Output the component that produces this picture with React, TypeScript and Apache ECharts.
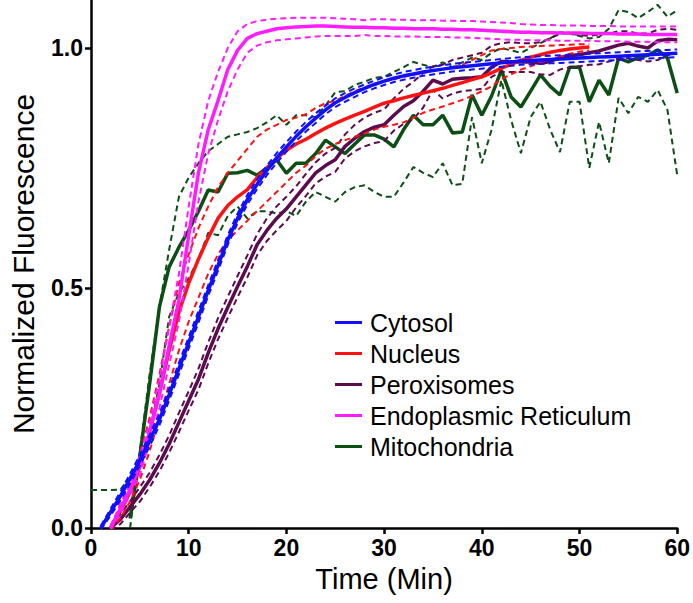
import React, { useEffect, useRef } from "react";
import * as echarts from "echarts";

const TIME = [0, 1, 2, 3, 4, 5, 6, 7, 8, 9, 10, 11, 12, 13, 14, 15, 16, 17, 18, 19, 20, 21, 22, 23, 24, 25, 26, 27, 28, 29, 30, 31, 32, 33, 34, 35, 36, 37, 38, 39, 40, 41, 42, 43, 44, 45, 46, 47, 48, 49, 50, 51, 52, 53, 54, 55, 56, 57, 58, 59, 60];

const Y_TICKS = [0, 0.5, 1.0];

const CYT_MEAN = [null, 0, 0.033, 0.066, 0.103, 0.141, 0.182, 0.226, 0.278, 0.332, 0.386, 0.44, 0.495, 0.547, 0.6, 0.645, 0.684, 0.716, 0.745, 0.771, 0.794, 0.816, 0.836, 0.854, 0.871, 0.886, 0.897, 0.907, 0.916, 0.924, 0.931, 0.937, 0.942, 0.946, 0.95, 0.953, 0.956, 0.959, 0.961, 0.963, 0.965, 0.967, 0.969, 0.971, 0.973, 0.974, 0.975, 0.976, 0.977, 0.978, 0.979, 0.98, 0.981, 0.982, 0.983, 0.984, 0.985, 0.986, 0.987, 0.988, 0.989];
const CYT_UP = [null, 0.004, 0.04, 0.075, 0.113, 0.152, 0.194, 0.238, 0.29, 0.344, 0.398, 0.452, 0.506, 0.558, 0.61, 0.655, 0.694, 0.726, 0.755, 0.781, 0.804, 0.826, 0.846, 0.864, 0.88, 0.895, 0.906, 0.916, 0.924, 0.932, 0.939, 0.945, 0.95, 0.954, 0.958, 0.961, 0.964, 0.967, 0.969, 0.971, 0.973, 0.975, 0.977, 0.979, 0.981, 0.982, 0.983, 0.984, 0.985, 0.986, 0.987, 0.988, 0.989, 0.99, 0.991, 0.992, 0.993, 0.994, 0.995, 0.996, 0.997];
const CYT_LO = [null, -0.004, 0.026, 0.057, 0.093, 0.13, 0.17, 0.214, 0.266, 0.32, 0.374, 0.428, 0.484, 0.536, 0.59, 0.635, 0.674, 0.706, 0.735, 0.761, 0.784, 0.806, 0.826, 0.844, 0.862, 0.877, 0.888, 0.898, 0.908, 0.916, 0.923, 0.929, 0.934, 0.938, 0.942, 0.945, 0.948, 0.951, 0.953, 0.955, 0.957, 0.959, 0.961, 0.963, 0.965, 0.966, 0.967, 0.968, 0.969, 0.97, 0.971, 0.972, 0.973, 0.974, 0.975, 0.976, 0.977, 0.978, 0.979, 0.98, 0.981];

const NUC_MEAN = [null, null, 0, 0.035, 0.075, 0.127, 0.2, 0.28, 0.37, 0.45, 0.51, 0.56, 0.605, 0.645, 0.672, 0.69, 0.705, 0.73, 0.75, 0.77, 0.787, 0.8, 0.81, 0.822, 0.833, 0.843, 0.852, 0.86, 0.868, 0.877, 0.885, 0.89, 0.896, 0.901, 0.906, 0.911, 0.916, 0.922, 0.928, 0.934, 0.94, 0.948, 0.958, 0.966, 0.974, 0.981, 0.986, 0.991, 0.995, 0.998, 1.0, 1.002];
const NUC_UP = [null, null, 0.005, 0.045, 0.09, 0.15, 0.23, 0.32, 0.42, 0.51, 0.57, 0.625, 0.67, 0.71, 0.74, 0.765, 0.79, 0.815, 0.83, 0.84, 0.85, 0.855, 0.862, 0.875, 0.885, 0.89, 0.9, 0.91, 0.918, 0.925, 0.93, 0.935, 0.94, 0.944, 0.948, 0.952, 0.956, 0.96, 0.965, 0.975, 0.985, 0.995, 0.998, 1.0, 1.002, 1.003, 1.004, 1.005, 1.006, 1.007, 1.008, 1.008];
const NUC_LO = [null, null, -0.005, 0.02, 0.055, 0.1, 0.16, 0.23, 0.3, 0.37, 0.43, 0.48, 0.53, 0.57, 0.6, 0.62, 0.64, 0.66, 0.68, 0.7, 0.72, 0.74, 0.755, 0.775, 0.79, 0.8, 0.808, 0.815, 0.822, 0.83, 0.836, 0.84, 0.845, 0.855, 0.865, 0.872, 0.878, 0.885, 0.892, 0.9, 0.91, 0.92, 0.935, 0.945, 0.955, 0.962, 0.97, 0.976, 0.982, 0.988, 0.992, 0.995];

const PER_MEAN = [null, null, 0, 0.018, 0.044, 0.07, 0.1, 0.135, 0.175, 0.22, 0.265, 0.31, 0.365, 0.415, 0.46, 0.503, 0.545, 0.59, 0.62, 0.645, 0.665, 0.69, 0.715, 0.74, 0.755, 0.767, 0.795, 0.812, 0.826, 0.835, 0.84, 0.86, 0.878, 0.89, 0.91, 0.933, 0.925, 0.935, 0.937, 0.938, 0.94, 0.96, 0.972, 0.971, 0.971, 0.971, 0.968, 0.972, 0.98, 0.984, 0.986, 0.99, 0.994, 1.0, 1.006, 1.01, 1.004, 1.0, 1.015, 1.018, 1.017];
const PER_UP = [null, null, 0.005, 0.028, 0.056, 0.085, 0.115, 0.152, 0.193, 0.24, 0.285, 0.332, 0.387, 0.437, 0.482, 0.525, 0.568, 0.612, 0.645, 0.67, 0.69, 0.712, 0.738, 0.762, 0.78, 0.792, 0.82, 0.84, 0.855, 0.865, 0.872, 0.895, 0.915, 0.93, 0.948, 0.962, 0.965, 0.975, 0.98, 0.985, 0.99, 1.005, 1.01, 1.012, 1.01, 1.01, 1.012, 1.02, 1.03, 1.03, 1.027, 1.025, 1.028, 1.03, 1.035, 1.035, 1.03, 1.03, 1.038, 1.04, 1.038];
const PER_LO = [null, null, -0.005, 0.008, 0.032, 0.055, 0.085, 0.118, 0.157, 0.2, 0.245, 0.288, 0.343, 0.393, 0.438, 0.481, 0.522, 0.568, 0.598, 0.62, 0.64, 0.668, 0.692, 0.718, 0.732, 0.742, 0.77, 0.785, 0.795, 0.802, 0.806, 0.828, 0.842, 0.852, 0.876, 0.9125, 0.895, 0.905, 0.91, 0.912, 0.915, 0.94, 0.95, 0.95, 0.95, 0.95, 0.945, 0.944, 0.955, 0.96, 0.962, 0.965, 0.966, 0.972, 0.978, 0.979, 0.975, 0.972, 0.975, 0.985, 0.99];

const ER_MEAN = [null, null, 0, 0.04, 0.08, 0.13, 0.2, 0.28, 0.38, 0.475, 0.61, 0.74, 0.83, 0.89, 0.955, 0.995, 1.02, 1.03, 1.035, 1.04, 1.042, 1.044, 1.045, 1.046, 1.046, 1.045, 1.044, 1.043, 1.043, 1.042, 1.042, 1.041, 1.041, 1.04, 1.04, 1.04, 1.039, 1.039, 1.038, 1.038, 1.037, 1.036, 1.035, 1.034, 1.033, 1.033, 1.032, 1.032, 1.031, 1.031, 1.031, 1.03, 1.03, 1.03, 1.029, 1.029, 1.029, 1.028, 1.028, 1.028, 1.028];
const ER_UP = [null, null, 0.003, 0.05, 0.09, 0.15, 0.22, 0.31, 0.42, 0.53, 0.67, 0.8, 0.89, 0.95, 1.0, 1.035, 1.05, 1.056, 1.059, 1.061, 1.062, 1.063, 1.063, 1.063, 1.063, 1.062, 1.061, 1.06, 1.058, 1.06, 1.06, 1.059, 1.059, 1.058, 1.058, 1.058, 1.057, 1.057, 1.056, 1.056, 1.055, 1.054, 1.053, 1.052, 1.05, 1.049, 1.048, 1.048, 1.047, 1.047, 1.047, 1.046, 1.046, 1.046, 1.045, 1.045, 1.045, 1.045, 1.045, 1.045, 1.045];
const ER_LO = [null, null, -0.003, 0.03, 0.07, 0.11, 0.18, 0.25, 0.34, 0.43, 0.55, 0.68, 0.78, 0.85, 0.91, 0.955, 0.99, 1.005, 1.012, 1.016, 1.018, 1.02, 1.022, 1.024, 1.025, 1.025, 1.025, 1.025, 1.027, 1.025, 1.025, 1.024, 1.024, 1.024, 1.023, 1.023, 1.023, 1.022, 1.022, 1.021, 1.02, 1.019, 1.018, 1.017, 1.017, 1.016, 1.016, 1.016, 1.015, 1.015, 1.015, 1.015, 1.014, 1.014, 1.014, 1.013, 1.013, 1.013, 1.012, 1.012, 1.012];

const MIT_MEAN = [null, null, null, null, 0.02, 0.15, 0.3, 0.46, 0.544, 0.585, 0.62, 0.66, 0.704, 0.7, 0.739, 0.74, 0.745, 0.735, 0.75, 0.767, 0.739, 0.76, 0.76, 0.78, 0.808, 0.794, 0.78, 0.8, 0.819, 0.819, 0.81, 0.794, 0.83, 0.86, 0.84, 0.84, 0.86, 0.823, 0.825, 0.902, 0.86, 0.9, 0.954, 0.898, 0.877, 0.91, 0.944, 0.92, 0.902, 0.96, 0.96, 0.888, 0.933, 0.902, 0.979, 0.971, 0.98, 0.985, 0.996, 0.979, 0.906];
const MIT_UP = [null, null, null, null, 0.0, 0.16, 0.32, 0.46, 0.58, 0.69, 0.73, 0.76, 0.785, 0.8, 0.815, 0.82, 0.825, 0.833, 0.845, 0.86, 0.84, 0.86, 0.86, 0.856, 0.88, 0.908, 0.91, 0.923, 0.93, 0.9375, 0.94, 0.95, 0.96, 0.971, 0.965, 0.96, 0.97, 0.96, 0.97, 0.98, 0.975, 0.99, 1.0, 0.995, 0.99, 1.0, 1.01, 1.02, 1.033, 1.03, 1.025, 1.02, 1.023, 1.04, 1.079, 1.075, 1.0625, 1.075, 1.09, 1.065, 1.079];
const MIT_LO = [0.079, 0.079, 0.079, 0.08, 0.105, 0.14, 0.2, 0.3, 0.44, 0.49, 0.52, 0.56, 0.615, 0.61, 0.65, 0.67, 0.645, 0.66, 0.66, 0.655, 0.66, 0.65, 0.68, 0.7, 0.69, 0.68, 0.7, 0.71, 0.714, 0.7, 0.69, 0.69, 0.72, 0.752, 0.74, 0.731, 0.76, 0.714, 0.717, 0.856, 0.76, 0.83, 0.933, 0.85, 0.781, 0.856, 0.888, 0.83, 0.783, 0.888, 0.888, 0.75, 0.846, 0.76, 0.896, 0.864, 0.898, 0.888, 0.9125, 0.871, 0.735];

const ORGANELLES = [
  { name: "Mitochondria", color: "#0b4f14", mean: MIT_MEAN, upper: MIT_UP, lower: MIT_LO, z: 2 },
  { name: "Peroxisomes", color: "#5c0b4e", mean: PER_MEAN, upper: PER_UP, lower: PER_LO, z: 3 },
  { name: "Nucleus", color: "#ff1111", mean: NUC_MEAN, upper: NUC_UP, lower: NUC_LO, z: 4 },
  { name: "Endoplasmic Reticulum", color: "#ff1cff", mean: ER_MEAN, upper: ER_UP, lower: ER_LO, z: 5 },
  { name: "Cytosol", color: "#1010ff", mean: CYT_MEAN, upper: CYT_UP, lower: CYT_LO, z: 6 },
];

const LEGEND_ORDER = ["Cytosol", "Nucleus", "Peroxisomes", "Endoplasmic Reticulum", "Mitochondria"];

const FONT = "'Liberation Sans', Arial, Helvetica, sans-serif";

function pairs(arr: (number | null)[]) {
  const out: [number, number][] = [];
  TIME.forEach((t, i) => {
    const v = arr[i];
    if (v !== null && v !== undefined) out.push([t, v]);
  });
  return out;
}

export default function App() {
  const ref = useRef<HTMLDivElement>(null);
  useEffect(() => {
    if (!ref.current) return;
    const chart = echarts.init(ref.current, null, { renderer: "svg" });
    const series: any[] = [];
    ORGANELLES.forEach((o) => {
      series.push({
        type: "line",
        name: o.name + " upper",
        data: pairs(o.upper),
        symbol: "none",
        showSymbol: false,
        silent: true,
        z: o.z,
        lineStyle: { color: o.color, width: 2, type: [6, 4] },
        itemStyle: { color: o.color },
      });
      series.push({
        type: "line",
        name: o.name + " lower",
        data: pairs(o.lower),
        symbol: "none",
        showSymbol: false,
        silent: true,
        z: o.z,
        lineStyle: { color: o.color, width: 2, type: [6, 4] },
        itemStyle: { color: o.color },
      });
      series.push({
        type: "line",
        name: o.name,
        data: pairs(o.mean),
        symbol: "none",
        showSymbol: false,
        silent: true,
        z: o.z,
        lineStyle: { color: o.color, width: 3.5 },
        itemStyle: { color: o.color },
      });
    });

    chart.setOption({
      animation: false,
      backgroundColor: "#ffffff",
      grid: { left: 80, right: 13, top: 0, bottom: 75, containLabel: false },
      legend: {
        data: LEGEND_ORDER,
        orient: "vertical",
        left: 330,
        top: 302,
        itemGap: 0,
        itemWidth: 27,
        itemHeight: 3,
        icon: "rect",
        selectedMode: false,
        textStyle: { fontSize: 25, lineHeight: 31, color: "#000", fontFamily: FONT, padding: [0, 0, 0, 3] },
      },
      xAxis: {
        type: "value",
        min: 0,
        max: 60,
        interval: 10,
        name: "Time (Min)",
        nameLocation: "middle",
        nameGap: 36,
        nameTextStyle: { fontSize: 29, color: "#000", fontFamily: FONT },
        axisLine: { lineStyle: { color: "#000", width: 2.5 } },
        axisTick: { show: true, length: 6, lineStyle: { color: "#000", width: 2.5 } },
        axisLabel: { fontSize: 23, fontWeight: "bold", color: "#000", fontFamily: FONT, margin: 8 },
        splitLine: { show: false },
      },
      yAxis: {
        type: "value",
        min: 0,
        max: 1.1,
        interval: 0.5,
        name: "Normalized Fluorescence",
        nameLocation: "middle",
        nameGap: 53,
        nameTextStyle: { fontSize: 30, color: "#000", fontFamily: FONT },
        axisLine: { show: true, lineStyle: { color: "#000", width: 2.5 } },
        axisTick: { show: true, length: 6, customValues: Y_TICKS, lineStyle: { color: "#000", width: 2.5 } },
        axisLabel: {
          customValues: Y_TICKS,
          fontSize: 23,
          fontWeight: "bold",
          color: "#000",
          fontFamily: FONT,
          margin: 8,
          formatter: (v: number) => v.toFixed(1),
        },
        splitLine: { show: false },
      },
      series,
    });
    return () => chart.dispose();
  }, []);
  return <div ref={ref} style={{ position: "fixed", left: 0, top: 0, width: 693, height: 603, background: "#fff" }} />;
}
